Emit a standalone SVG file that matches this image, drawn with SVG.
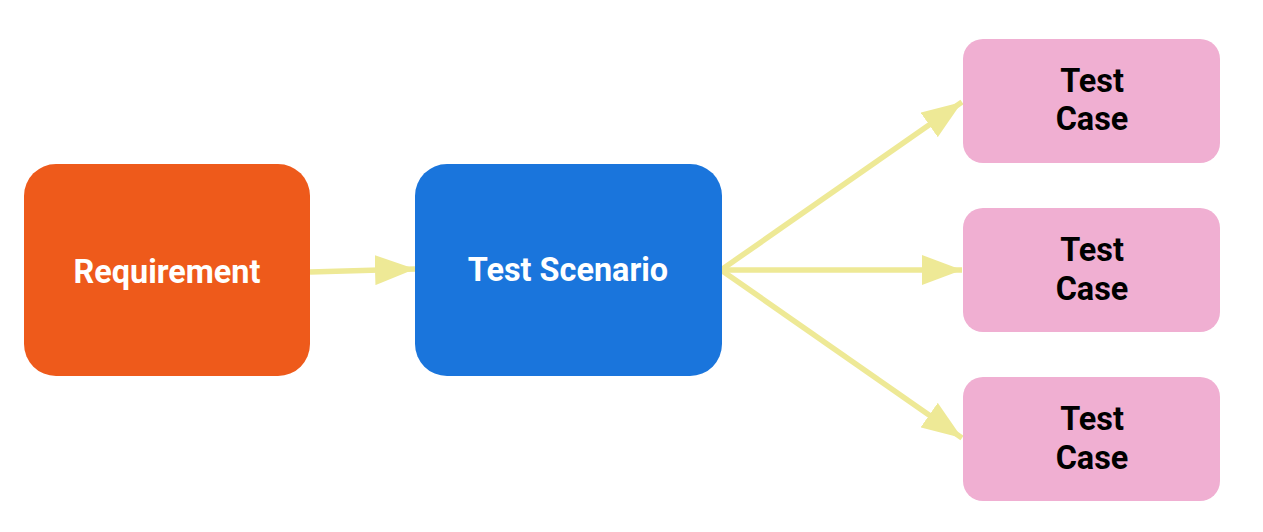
<svg xmlns="http://www.w3.org/2000/svg" width="1263" height="532" viewBox="0 0 1263 532">
<style>
.lbl{font-family:Roboto,"Liberation Sans",sans-serif;font-weight:bold;font-size:32.4px;text-anchor:middle}
.w{fill:#ffffff}
.k{fill:#000000}
.case{fill:#F0AFD2}
.edge{stroke:#EEE996;stroke-width:5.5;fill:none}
</style>
<defs>
<marker id="ah" markerUnits="userSpaceOnUse" markerWidth="40" markerHeight="30" refX="40" refY="15" orient="auto">
<path d="M0,0 L40,15 L0,30 Z" fill="#EEE996"/>
</marker>
</defs>
<rect width="1263" height="532" fill="#ffffff"/>
<g id="connectors">
<line class="edge" x1="310" y1="272" x2="415" y2="269" marker-end="url(#ah)"/>
<line class="edge" x1="721" y1="270" x2="962" y2="102" marker-end="url(#ah)"/>
<line class="edge" x1="721" y1="270" x2="962" y2="270" marker-end="url(#ah)"/>
<line class="edge" x1="721" y1="270" x2="962" y2="438" marker-end="url(#ah)"/>
</g>
<g id="requirement">
<rect x="24" y="164" width="286" height="212" rx="32" fill="#EE5A1B"/>
<text class="lbl w" x="167" y="283">Requirement</text>
</g>
<g id="scenario">
<rect x="415" y="164" width="307" height="212" rx="32" fill="#1A75DC"/>
<text class="lbl w" x="568" y="281">Test Scenario</text>
</g>
<g id="case1">
<rect class="case" x="963" y="39" width="257" height="124" rx="20"/>
<text class="lbl k" x="1092" y="92">Test</text>
<text class="lbl k" x="1092" y="130">Case</text>
</g>
<g id="case2">
<rect class="case" x="963" y="208" width="257" height="124" rx="20"/>
<text class="lbl k" x="1092" y="261">Test</text>
<text class="lbl k" x="1092" y="300">Case</text>
</g>
<g id="case3">
<rect class="case" x="963" y="377" width="257" height="124" rx="20"/>
<text class="lbl k" x="1092" y="430">Test</text>
<text class="lbl k" x="1092" y="469">Case</text>
</g>
</svg>
